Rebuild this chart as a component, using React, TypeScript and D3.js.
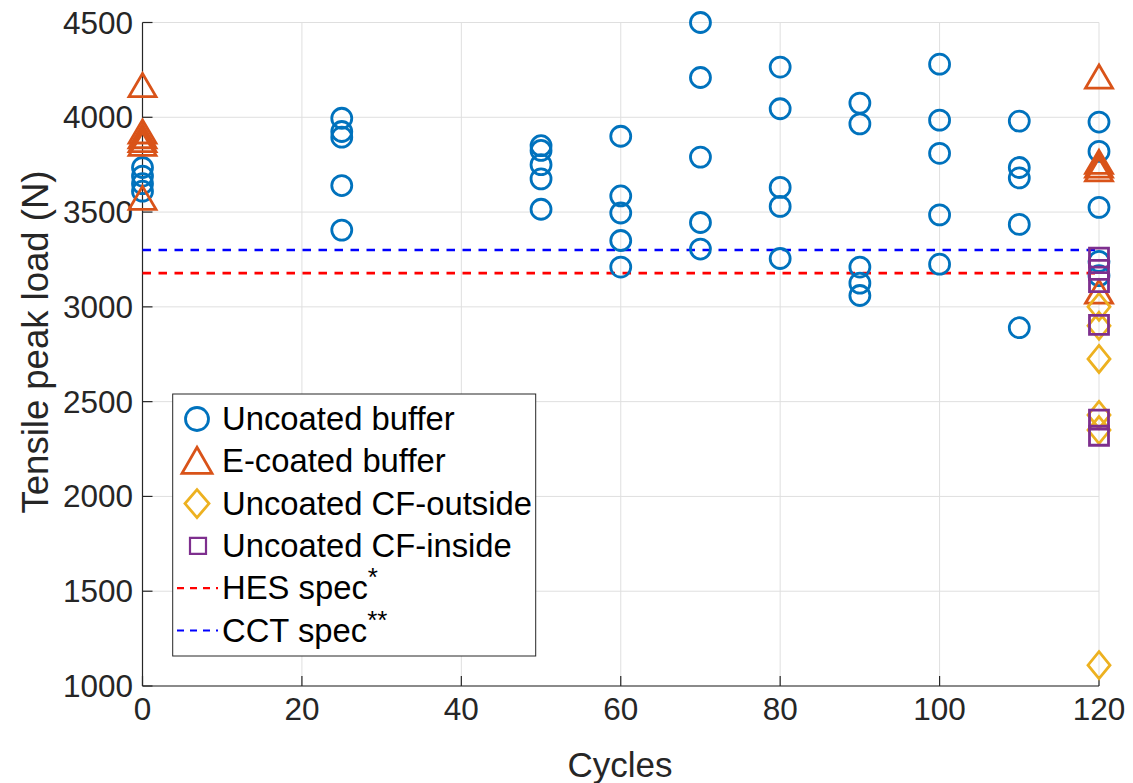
import React from "react";
import * as d3 from "d3";

const uncoatedCycles = [0, 0, 0, 0, 25, 25, 25, 25, 25, 50, 50, 50, 50, 50, 60, 60, 60, 60, 60, 70, 70, 70, 70, 70, 80, 80, 80, 80, 80, 90, 90, 90, 90, 90, 100, 100, 100, 100, 100, 110, 110, 110, 110, 110, 120, 120, 120, 120, 120];
const uncoatedLoad = [3735, 3690, 3650, 3610, 3995, 3925, 3895, 3640, 3405, 3850, 3825, 3750, 3675, 3515, 3900, 3585, 3495, 3350, 3210, 4500, 4210, 3790, 3445, 3305, 4265, 4045, 3630, 3530, 3255, 4075, 3965, 3210, 3125, 3060, 4280, 3985, 3810, 3485, 3225, 3980, 3735, 3680, 3435, 2890, 3975, 3820, 3525, 3240, 3165];

const ecoatedCycles = [0, 0, 0, 0, 0, 0, 120, 120, 120, 120, 120];
const ecoatedLoad = [4170, 3925, 3900, 3880, 3860, 3575, 4215, 3765, 3745, 3725, 3080];

const cfOutsideCycles = [120, 120, 120, 120, 120, 120];
const cfOutsideLoad = [3000, 2900, 2725, 2430, 2350, 1110];

const cfInsideCycles = [120, 120, 120, 120, 120, 120];
const cfInsideLoad = [3260, 3195, 3130, 2905, 2405, 2320];

const hesSpec = 3178;
const cctSpec = 3300;

const xTicks = [0, 20, 40, 60, 80, 100, 120];
const yTicks = [1000, 1500, 2000, 2500, 3000, 3500, 4000, 4500];

const C_BLUE = "#0072BD";
const C_ORANGE = "#D95319";
const C_YELLOW = "#EDB120";
const C_PURPLE = "#7E2F8E";
const AX = "#262626";
const FONT = "'Liberation Sans', Arial, Helvetica, sans-serif";

const triPath = "M0,-11.5L13.5,11.5L-13.5,11.5Z";
const diaPath = "M0,-13.5L11,0L0,13.5L-11,0Z";
const sqPath = "M-9.5,-9.5L9.5,-9.5L9.5,9.5L-9.5,9.5Z";

export default function App() {
  const x = d3.scaleLinear().domain([0, 120]).range([142.5, 1099]);
  const y = d3.scaleLinear().domain([1000, 4500]).range([686, 22.5]);
  const sw = 2.8;

  const legendRows = [430, 472.3, 514.6, 556.9, 599.2, 641.5];
  const LF = 32.8;

  return (
    <svg width={1133} height={783} style={{ position: "fixed", left: 0, top: 0, background: "#fff" }} fontFamily={FONT}>
      <rect x={0} y={0} width={1133} height={783} fill="#fff" />
      {/* grid */}
      {xTicks.map((t) => (
        <line key={"gx" + t} x1={x(t)} x2={x(t)} y1={y(4500)} y2={y(1000)} stroke="#dfdfdf" strokeWidth={1} />
      ))}
      {yTicks.map((t) => (
        <line key={"gy" + t} x1={x(0)} x2={x(120)} y1={y(t)} y2={y(t)} stroke="#dfdfdf" strokeWidth={1} />
      ))}
      {/* axes */}
      <line x1={x(0)} x2={x(0)} y1={y(4500)} y2={y(1000)} stroke={AX} strokeWidth={1.2} />
      <line x1={x(0)} x2={x(120)} y1={y(1000)} y2={y(1000)} stroke={AX} strokeWidth={1.2} />
      {yTicks.map((t) => (
        <g key={"ty" + t}>
          <line x1={x(0)} x2={x(0) + 10} y1={y(t)} y2={y(t)} stroke={AX} strokeWidth={1.2} />
          <text x={133} y={y(t) + 11} textAnchor="end" fontSize={31.5} fill={AX}>{t}</text>
        </g>
      ))}
      {xTicks.map((t) => (
        <g key={"tx" + t}>
          <line x1={x(t)} x2={x(t)} y1={y(1000)} y2={y(1000) - 10} stroke={AX} strokeWidth={1.2} />
          <text x={x(t)} y={720} textAnchor="middle" fontSize={31.5} fill={AX}>{t}</text>
        </g>
      ))}
      <text x={620} y={777} textAnchor="middle" fontSize={35} fill={AX}>Cycles</text>
      <text transform={`translate(48,342) rotate(-90)`} textAnchor="middle" fontSize={36.5} fill={AX}>Tensile peak load (N)</text>

      {/* spec lines */}
      <line x1={x(0)} x2={x(120)} y1={y(cctSpec)} y2={y(cctSpec)} stroke="#0000FF" strokeWidth={2.6} strokeDasharray="8.5 7.5" />
      <line x1={x(0)} x2={x(120)} y1={y(hesSpec)} y2={y(hesSpec)} stroke="#FF0000" strokeWidth={2.6} strokeDasharray="8.5 7.5" />

      {/* markers */}
      {uncoatedLoad.map((v, i) => (
        <circle key={"u" + i} cx={x(uncoatedCycles[i])} cy={y(v)} r={10} fill="none" stroke={C_BLUE} strokeWidth={sw} />
      ))}
      {ecoatedLoad.map((v, i) => (
        <path key={"e" + i} d={triPath} transform={`translate(${x(ecoatedCycles[i])},${y(v)})`} fill="none" stroke={C_ORANGE} strokeWidth={sw} />
      ))}
      {cfOutsideLoad.map((v, i) => (
        <path key={"o" + i} d={diaPath} transform={`translate(${x(cfOutsideCycles[i])},${y(v)})`} fill="none" stroke={C_YELLOW} strokeWidth={sw} />
      ))}
      {cfInsideLoad.map((v, i) => (
        <path key={"s" + i} d={sqPath} transform={`translate(${x(cfInsideCycles[i])},${y(v)})`} fill="none" stroke={C_PURPLE} strokeWidth={sw} />
      ))}

      {/* legend */}
      <rect x={172.7} y={394} width={363} height={262} fill="#fff" stroke={AX} strokeWidth={1} />
      <circle cx={197} cy={legendRows[0] - 11} r={11.5} fill="none" stroke={C_BLUE} strokeWidth={sw} />
      <path d="M0,-13L15,13L-15,13Z" transform={`translate(197,${legendRows[1] - 12})`} fill="none" stroke={C_ORANGE} strokeWidth={sw} />
      <path d="M0,-14L12,0L0,14L-12,0Z" transform={`translate(197,${legendRows[2] - 11})`} fill="none" stroke={C_YELLOW} strokeWidth={sw} />
      <path d="M-8,-8L8,-8L8,8L-8,8Z" transform={`translate(198,${legendRows[3] - 11})`} fill="none" stroke={C_PURPLE} strokeWidth={2.2} />
      <line x1={177} x2={218} y1={legendRows[4] - 11} y2={legendRows[4] - 11} stroke="#FF0000" strokeWidth={2.2} strokeDasharray="7 6" />
      <line x1={177} x2={218} y1={legendRows[5] - 11} y2={legendRows[5] - 11} stroke="#0000FF" strokeWidth={2.2} strokeDasharray="7 6" />
      {["Uncoated buffer", "E-coated buffer", "Uncoated CF-outside", "Uncoated CF-inside"].map((s, i) => (
        <text key={"lt" + i} x={222} y={legendRows[i]} fontSize={LF} fill="#000">{s}</text>
      ))}
      <text x={222} y={legendRows[4]} fontSize={LF} fill="#000">
        HES spec<tspan dy={-13} fontSize={26}>*</tspan>
      </text>
      <text x={222} y={legendRows[5]} fontSize={LF} fill="#000">
        CCT spec<tspan dy={-13} fontSize={26}>**</tspan>
      </text>
    </svg>
  );
}
